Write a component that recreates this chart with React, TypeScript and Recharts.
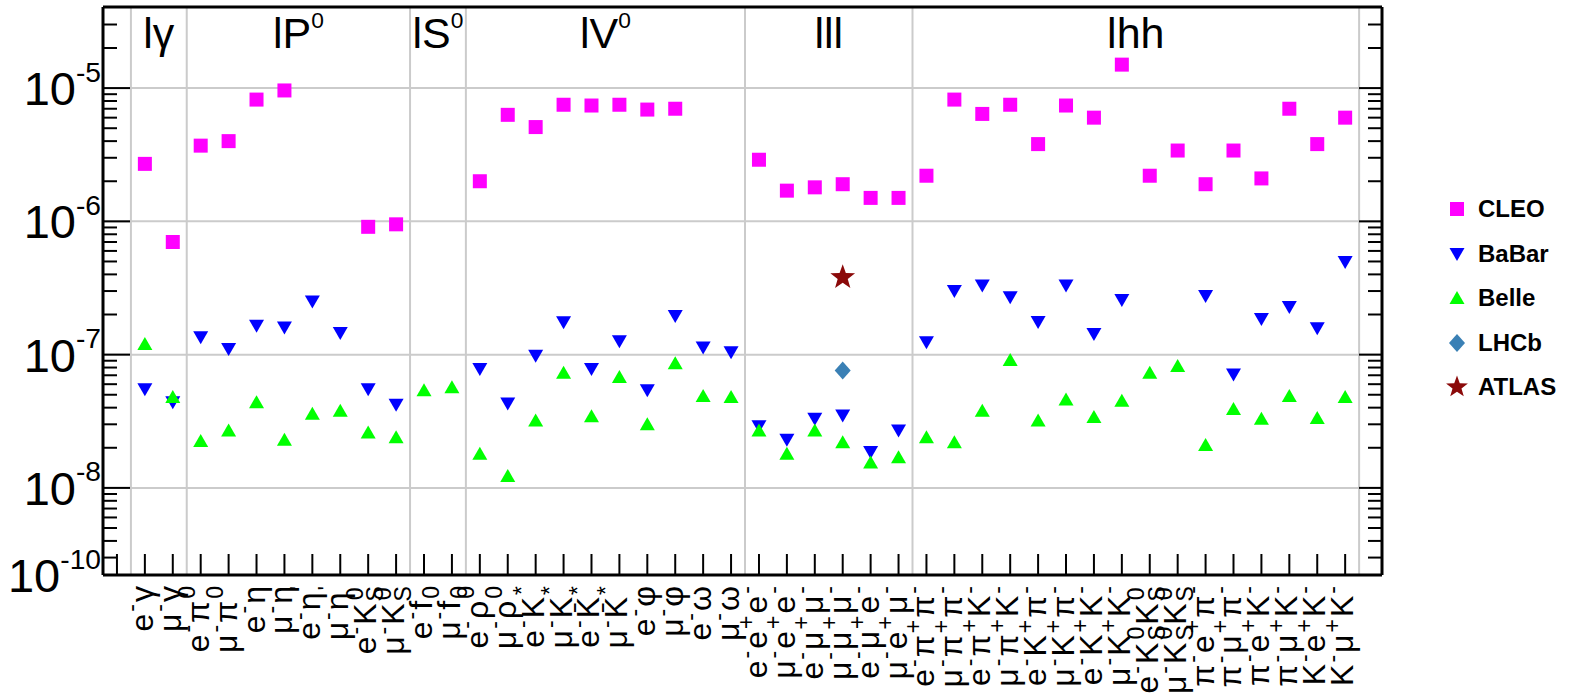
import React from "react";
import { ScatterChart, Scatter, XAxis, YAxis, ReferenceLine } from "recharts";

// tau LFV upper limits (90% CL), one entry per decay channel
const groupNames = ["lγ", "lP^0", "lS^0", "lV^0", "lll", "lhh"];
const groupSizes = [2, 8, 2, 10, 6, 16];

const channels = [
  "e^-γ", "μ^-γ",
  "e^-π^0", "μ^-π^0", "e^-η", "μ^-η", "e^-η^'", "μ^-η^'", "e^-K_S^0", "μ^-K_S^0",
  "e^-f_0", "μ^-f_0",
  "e^-ρ^0", "μ^-ρ^0", "e^-K^*", "μ^-K^*", "e^-K\u0304^*", "μ^-K\u0304^*", "e^-φ", "μ^-φ", "e^-ω", "μ^-ω",
  "e^-e^+e^-", "μ^-e^+e^-", "e^-μ^+μ^-", "μ^-μ^+μ^-", "e^-μ^+e^-", "μ^-e^+μ^-",
  "e^-π^+π^-", "μ^-π^+π^-", "e^-π^+K^-", "μ^-π^+K^-", "e^-K^+π^-", "μ^-K^+π^-", "e^-K^+K^-", "μ^-K^+K^-",
  "e^-K_S^0K_S^0", "μ^-K_S^0K_S^0", "π^-e^+π^-", "π^-μ^+π^-", "π^-e^+K^-", "π^-μ^+K^-", "K^-e^+K^-", "K^-μ^+K^-",
];

const cleo = [
  2.7e-6, 7.0e-7,
  3.7e-6, 4.0e-6, 8.2e-6, 9.6e-6, null, null, 9.1e-7, 9.5e-7,
  null, null,
  2.0e-6, 6.3e-6, 5.1e-6, 7.5e-6, 7.4e-6, 7.5e-6, 6.9e-6, 7.0e-6, null, null,
  2.9e-6, 1.7e-6, 1.8e-6, 1.9e-6, 1.5e-6, 1.5e-6,
  2.2e-6, 8.2e-6, 6.4e-6, 7.5e-6, 3.8e-6, 7.4e-6, 6.0e-6, 1.5e-5,
  2.2e-6, 3.4e-6, 1.9e-6, 3.4e-6, 2.1e-6, 7.0e-6, 3.8e-6, 6.0e-6,
];

const babar = [
  5.5e-8, 4.4e-8,
  1.35e-7, 1.1e-7, 1.65e-7, 1.6e-7, 2.5e-7, 1.45e-7, 5.5e-8, 4.2e-8,
  null, null,
  7.8e-8, 4.3e-8, 9.8e-8, 1.75e-7, 7.8e-8, 1.26e-7, 5.4e-8, 1.95e-7, 1.13e-7, 1.04e-7,
  2.9e-8, 2.3e-8, 3.3e-8, 3.5e-8, 1.86e-8, 2.7e-8,
  1.24e-7, 3.0e-7, 3.3e-7, 2.7e-7, 1.76e-7, 3.3e-7, 1.43e-7, 2.57e-7,
  null, null, 2.75e-7, 7.1e-8, 1.85e-7, 2.28e-7, 1.58e-7, 4.95e-7,
];

const belle = [
  1.2e-7, 4.8e-8,
  2.25e-8, 2.7e-8, 4.4e-8, 2.3e-8, 3.6e-8, 3.8e-8, 2.6e-8, 2.4e-8,
  5.4e-8, 5.7e-8,
  1.8e-8, 1.23e-8, 3.2e-8, 7.3e-8, 3.45e-8, 6.8e-8, 3.0e-8, 8.6e-8, 4.9e-8, 4.8e-8,
  2.7e-8, 1.8e-8, 2.7e-8, 2.2e-8, 1.55e-8, 1.7e-8,
  2.4e-8, 2.2e-8, 3.8e-8, 9.1e-8, 3.2e-8, 4.6e-8, 3.4e-8, 4.5e-8,
  7.3e-8, 8.2e-8, 2.1e-8, 3.9e-8, 3.3e-8, 4.9e-8, 3.35e-8, 4.8e-8,
];

const lhcb = channels.map((c) => (c === "μ^-μ^+μ^-" ? 7.6e-8 : null));
const atlas = channels.map((c) => (c === "μ^-μ^+μ^-" ? 3.8e-7 : null));

const yMin = 2.22e-9;
const yMax = 4.06e-5;
const majorTicks = [1e-8, 1e-7, 1e-6, 1e-5];
const yLabelValues = [yMin, 1e-8, 1e-7, 1e-6, 1e-5];
const yLabels = ["10^{-10}", "10^{-8}", "10^{-7}", "10^{-6}", "10^{-5}"];
const minorTicks = [
  3e-9, 4e-9, 5e-9, 6e-9, 7e-9, 8e-9, 9e-9,
  2e-8, 3e-8, 4e-8, 5e-8, 6e-8, 7e-8, 8e-8, 9e-8,
  2e-7, 3e-7, 4e-7, 5e-7, 6e-7, 7e-7, 8e-7, 9e-7,
  2e-6, 3e-6, 4e-6, 5e-6, 6e-6, 7e-6, 8e-6, 9e-6,
  2e-5, 3e-5,
];
const yTicks = [yMin, ...minorTicks, ...majorTicks].sort((a, b) => a - b);

const xMin = -1;
const xMax = 44.82;
const xTicks = Array.from({ length: channels.length + 1 }, (_, i) => i - 0.5);
const boundaries = groupSizes.reduce((acc, n) => [...acc, acc[acc.length - 1] + n], [0]);
const groupCenters = groupSizes.map((n, i) => boundaries[i] + n / 2);

const FONT = "'Liberation Sans', Arial, Helvetica, sans-serif";
const GRID = "#cbcbcb";

const COLORS = {
  CLEO: "#ff00ff",
  BaBar: "#0000ff",
  Belle: "#00ff00",
  LHCb: "#3a80b5",
  ATLAS: "#8b0a0a",
};

const toPoints = (arr: (number | null)[]) =>
  arr.map((v, i) => (v == null ? null : { x: i + 0.5, y: v })).filter(Boolean) as { x: number; y: number }[];

type Seg = { t: string; k: "n" | "sup" | "sub" };
function parseMarkup(s: string): Seg[] {
  const chars = Array.from(s);
  const segs: Seg[] = [];
  for (let i = 0; i < chars.length; i++) {
    const c = chars[i];
    if ((c === "^" || c === "_") && i + 1 < chars.length) {
      let t = "";
      if (chars[i + 1] === "{") {
        i += 2;
        while (i < chars.length && chars[i] !== "}") t += chars[i++];
      } else {
        t = chars[++i];
      }
      segs.push({ t, k: c === "^" ? "sup" : "sub" });
    } else {
      const last = segs[segs.length - 1];
      if (last && last.k === "n") last.t += c;
      else segs.push({ t: c, k: "n" });
    }
  }
  return segs;
}

// text with super/subscripts; a sup right after a sub is stacked over it (ROOT style)
function Markup({ s, fs, scale = 0.68, raise = 0.42, drop = 0.22, gap = 0 }: { s: string; fs: number; scale?: number; raise?: number; drop?: number; gap?: number }) {
  let shift = 0;
  const segs = parseMarkup(s);
  return (
    <>
      {segs.map((seg, i) => {
        const prev = segs[i - 1];
        const target = seg.k === "sup" ? -fs * raise : seg.k === "sub" ? fs * drop : 0;
        const dy = target - shift;
        shift = target;
        let dx = 0;
        if (seg.k === "sup" && prev && prev.k === "sub") dx = -prev.t.length * fs * scale * 0.62;
        else if (prev && (prev.k !== "n" || seg.k !== "n")) dx = gap;
        return (
          <tspan key={i} dy={dy} dx={dx} fontSize={seg.k === "n" ? fs : fs * scale}>
            {seg.t}
          </tspan>
        );
      })}
    </>
  );
}

const XTick = (props: any) => {
  const { x, y, payload } = props;
  const label = channels[Math.round(payload.value - 0.5)];
  return (
    <g>
      <line x1={x} y1={y} x2={x} y2={y - 21} stroke="#000" strokeWidth={2} />
      {label && (
        <text transform={`translate(${x + 8}, ${y + 11}) rotate(-90)`} textAnchor="end" fill="#000" fontFamily={FONT}>
          <Markup s={label} fs={32} scale={0.72} gap={2} />
        </text>
      )}
    </g>
  );
};

const GroupTick = (props: any) => {
  const { x, y, payload } = props;
  const name = groupNames[groupCenters.indexOf(payload.value)];
  return (
    <text x={x} y={y + 41} textAnchor="middle" fill="#000" fontFamily={FONT}>
      <Markup s={name} fs={43} scale={0.53} raise={0.47} />
    </text>
  );
};

const YTick = (side: "left" | "right") => (props: any) => {
  const { x, y, payload } = props;
  const v = payload.value;
  const major = majorTicks.includes(v);
  const li = yLabelValues.indexOf(v);
  const dir = side === "left" ? 1 : -1;
  const len = major ? (side === "left" ? 27 : 23) : 14;
  return (
    <g>
      {v !== yMin && <line x1={x} y1={y} x2={x + dir * len} y2={y} stroke="#000" strokeWidth={2} />}
      {side === "left" && li >= 0 && (
        <text x={x - 2} y={y + 17} textAnchor="end" fill="#000" fontFamily={FONT}>
          <Markup s={yLabels[li]} fs={47} scale={0.6} raise={0.5} />
        </text>
      )}
    </g>
  );
};

const Square = (p: any) => <rect x={p.cx - 7} y={p.cy - 7} width={14} height={14} fill={COLORS.CLEO} />;
const TriDown = (p: any) => (
  <polygon points={`${p.cx - 7.5},${p.cy - 6} ${p.cx + 7.5},${p.cy - 6} ${p.cx},${p.cy + 7}`} fill={COLORS.BaBar} />
);
const TriUp = (p: any) => (
  <polygon points={`${p.cx - 7.5},${p.cy + 6} ${p.cx + 7.5},${p.cy + 6} ${p.cx},${p.cy - 7}`} fill={COLORS.Belle} />
);
const Diamond = (p: any) => (
  <polygon points={`${p.cx},${p.cy - 9} ${p.cx + 8},${p.cy} ${p.cx},${p.cy + 9} ${p.cx - 8},${p.cy}`} fill={COLORS.LHCb} />
);
const starPoints = (cx: number, cy: number, ro: number, ri: number) =>
  Array.from({ length: 10 }, (_, k) => {
    const r = k % 2 === 0 ? ro : ri;
    const a = -Math.PI / 2 + (k * Math.PI) / 5;
    return `${cx + r * Math.cos(a)},${cy + r * Math.sin(a)}`;
  }).join(" ");
const Star = (p: any) => <polygon points={starPoints(p.cx, p.cy, 13, 5.3)} fill={COLORS.ATLAS} />;
const Nothing = () => <g />;

const legendItems = [
  { name: "CLEO", shape: Square },
  { name: "BaBar", shape: TriDown },
  { name: "Belle", shape: TriUp },
  { name: "LHCb", shape: Diamond },
  { name: "ATLAS", shape: (p: any) => <polygon points={starPoints(p.cx, p.cy, 11.5, 4.7)} fill={COLORS.ATLAS} /> },
];

export default function App() {
  const frame = { stroke: "#000", strokeWidth: 3 };
  return (
    <div style={{ position: "absolute", left: 0, top: 0, width: 1573, height: 698, background: "#fff" }}>
      <ScatterChart width={1573} height={698} margin={{ top: 6, right: 190, bottom: 0, left: 0 }} style={{ fontFamily: FONT }}>
        <XAxis
          xAxisId="b"
          type="number"
          dataKey="x"
          domain={[xMin, xMax]}
          allowDataOverflow
          ticks={xTicks}
          interval={0}
          height={123}
          tickSize={0}
          tickMargin={0}
          tickLine={false}
          axisLine={frame}
          tick={(p: any) => <XTick {...p} />}
        />
        <XAxis
          xAxisId="t"
          orientation="top"
          type="number"
          dataKey="x"
          domain={[xMin, xMax]}
          allowDataOverflow
          ticks={groupCenters}
          interval={0}
          height={1}
          tickSize={0}
          tickMargin={0}
          tickLine={false}
          axisLine={frame}
          tick={(p: any) => <GroupTick {...p} />}
        />
        <YAxis
          yAxisId="l"
          type="number"
          dataKey="y"
          scale="log"
          domain={[yMin, yMax]}
          allowDataOverflow
          ticks={yTicks}
          interval={0}
          width={103}
          tickSize={0}
          tickMargin={0}
          tickLine={false}
          axisLine={frame}
          tick={YTick("left")}
        />
        <YAxis
          yAxisId="r"
          orientation="right"
          type="number"
          dataKey="y"
          scale="log"
          domain={[yMin, yMax]}
          allowDataOverflow
          ticks={yTicks}
          interval={0}
          width={1}
          tickSize={0}
          tickMargin={0}
          tickLine={false}
          axisLine={frame}
          tick={YTick("right")}
        />
        {majorTicks.map((v) => (
          <ReferenceLine key={`h${v}`} xAxisId="b" yAxisId="l" y={v} stroke={GRID} strokeWidth={2} />
        ))}
        {boundaries.map((b) => (
          <ReferenceLine key={`v${b}`} xAxisId="b" yAxisId="l" x={b} stroke={GRID} strokeWidth={2} />
        ))}
        <Scatter xAxisId="t" yAxisId="r" data={[]} shape={Nothing} isAnimationActive={false} legendType="none" />
        <Scatter name="CLEO" xAxisId="b" yAxisId="l" data={toPoints(cleo)} shape={Square} isAnimationActive={false} />
        <Scatter name="BaBar" xAxisId="b" yAxisId="l" data={toPoints(babar)} shape={TriDown} isAnimationActive={false} />
        <Scatter name="Belle" xAxisId="b" yAxisId="l" data={toPoints(belle)} shape={TriUp} isAnimationActive={false} />
        <Scatter name="LHCb" xAxisId="b" yAxisId="l" data={toPoints(lhcb)} shape={Diamond} isAnimationActive={false} />
        <Scatter name="ATLAS" xAxisId="b" yAxisId="l" data={toPoints(atlas)} shape={Star} isAnimationActive={false} />
      </ScatterChart>
      <div style={{ position: "absolute", left: 1446, top: 187, fontFamily: FONT }}>
        {legendItems.map((it) => (
          <div key={it.name} style={{ display: "flex", alignItems: "center", height: 44.5 }}>
            <svg width={22} height={24} style={{ marginRight: 10 }}>
              {it.shape({ cx: 11, cy: 12 })}
            </svg>
            <span style={{ fontSize: 24, fontWeight: "bold", color: "#000" }}>{it.name}</span>
          </div>
        ))}
      </div>
    </div>
  );
}
